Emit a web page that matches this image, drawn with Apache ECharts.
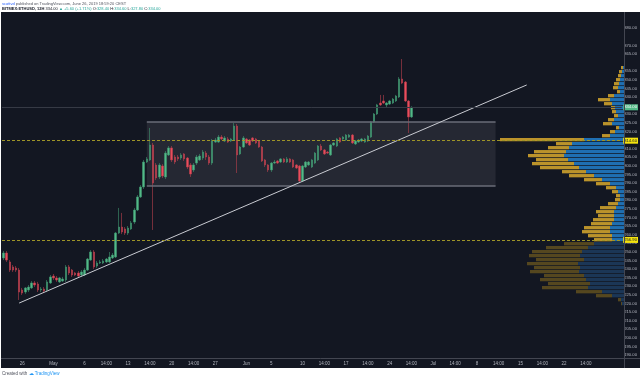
<!DOCTYPE html>
<html>
<head>
<meta charset="utf-8">
<title>ETHUSD 12H</title>
<script src="https://cdn.jsdelivr.net/npm/echarts@6/dist/echarts.min.js"></script>
<style>
  html, body { margin: 0; padding: 0; background: #ffffff; }
  #chart { width: 640px; height: 378px; }
</style>
</head>
<body>
<div id="chart"></div>
<script>
// 12h bars, first slot 2019-04-23 02:00 CEST; [open, close, low, high]
const candles = [
  [246.4,249.3,245.2,250.5],[249.3,245.2,244.1,250.5],[244.1,239.4,238.3,245.2],[241.2,239.4,238.3,242.3],
  [240.6,239.4,238.3,241.7],[239.4,226.6,222.0,240.6],[227.8,226.0,224.9,229.0],[226.6,229.0,225.5,229.5],
  [227.8,229.5,226.6,230.7],[229.0,231.9,228.4,233.0],[231.9,230.7,229.5,233.0],[231.3,227.8,226.6,232.5],
  [227.8,228.4,226.6,229.5],[228.4,227.2,226.0,229.5],[227.8,232.5,226.6,233.6],[231.9,235.4,231.3,236.5],
  [235.9,234.8,233.6,237.1],[234.8,233.6,232.5,235.9],[232.5,234.8,231.9,235.4],[233.0,234.2,232.5,235.4],
  [233.6,241.2,232.5,242.3],[241.2,237.7,236.5,242.3],[239.4,236.5,235.4,240.0],[237.7,236.5,235.9,238.3],
  [237.7,235.9,234.8,238.8],[236.5,238.3,235.4,239.4],[236.5,239.4,235.9,240.6],[239.4,245.8,238.8,246.4],
  [245.2,249.9,244.7,251.0],[249.9,241.2,240.0,251.0],[241.7,243.5,240.6,244.7],[243.5,244.1,242.9,245.2],
  [243.5,244.7,242.9,245.8],[244.1,245.8,243.5,246.4],[244.1,247.0,243.5,249.9],[246.4,248.1,245.8,249.3],
  [247.0,260.9,246.4,261.5],[260.9,264.4,260.3,275.5],[264.4,261.5,260.3,272.6],[263.3,260.9,259.8,264.4],
  [260.9,263.8,259.8,265.0],[263.3,266.8,262.7,267.9],[267.3,274.3,266.2,275.5],[274.3,281.9,273.7,283.0],
  [281.9,287.7,281.3,288.8],[287.7,302.2,286.5,303.4],[302.2,304.0,301.6,305.1],[303.4,312.1,302.8,322.0],
  [312.1,290.0,262.7,313.3],[300.5,292.9,291.7,301.6],[293.5,300.5,292.3,301.6],[299.9,294.1,292.9,301.0],
  [293.5,307.4,292.3,308.6],[306.3,310.4,305.7,311.5],[310.4,303.4,302.2,311.5],[305.1,302.2,301.0,306.3],
  [305.1,304.0,302.8,306.3],[304.5,306.3,303.4,307.4],[306.9,304.0,302.8,307.4],[304.5,299.3,298.1,305.1],
  [300.5,295.2,293.5,301.6],[297.6,300.5,296.4,301.6],[301.6,305.1,300.5,306.3],[303.4,305.7,302.8,306.9],
  [304.5,308.0,303.4,309.2],[307.4,305.1,303.4,308.6],[305.1,301.6,300.5,306.3],[301.6,314.4,300.5,315.6],
  [313.8,315.0,313.3,316.2],[313.8,316.7,313.3,317.9],[316.7,315.6,315.0,317.9],[314.4,316.2,313.8,317.3],
  [315.6,313.8,313.3,316.7],[314.4,315.6,313.8,316.2],[315.0,323.1,314.4,324.9],[323.1,306.3,295.8,324.3],
  [306.9,310.9,306.3,311.5],[310.9,316.2,310.4,317.3],[315.6,313.3,312.7,316.2],[315.0,312.1,311.5,315.6],
  [316.2,314.4,313.8,316.7],[315.6,313.3,312.7,316.2],[314.4,310.9,310.4,315.0],[310.9,302.8,302.2,311.5],
  [303.4,300.5,299.3,304.0],[300.5,297.6,296.4,301.0],[297.6,301.6,296.4,302.2],[301.6,302.2,301.0,303.4],
  [302.8,301.6,301.0,303.4],[302.2,304.0,301.6,304.5],[304.0,302.2,301.6,304.5],[302.2,304.0,301.6,305.1],
  [304.0,302.2,301.6,304.5],[303.4,299.3,298.7,304.0],[300.5,298.7,298.1,301.0],[299.9,291.2,290.6,300.5],
  [291.2,299.9,290.6,300.5],[299.3,302.2,298.7,302.8],[300.5,302.2,299.9,302.8],[299.3,303.4,298.7,304.0],
  [301.6,307.4,301.0,308.0],[303.4,311.5,302.8,312.1],[311.5,309.2,308.6,312.7],[309.2,306.9,306.3,309.8],
  [308.0,307.4,306.9,308.6],[306.3,312.1,305.7,312.7],[312.1,313.3,311.5,313.8],[311.5,315.6,310.9,316.2],
  [316.2,313.8,313.3,316.7],[315.6,316.7,315.0,317.3],[315.0,317.9,314.4,318.5],[316.7,317.9,316.2,318.5],
  [317.9,313.3,312.7,318.5],[312.7,314.4,312.1,315.0],[313.8,315.0,313.3,315.6],[314.4,315.6,313.8,316.2],
  [313.8,315.6,313.3,316.2],[314.4,317.3,313.8,317.9],[316.7,325.5,316.2,326.0],[325.5,330.1,324.9,330.7],
  [330.1,335.4,329.5,336.0],[336.5,335.4,334.8,341.2],[337.7,336.5,335.9,341.2],[335.4,336.5,333.6,337.1],
  [335.9,337.7,335.4,338.3],[336.5,338.8,335.9,339.4],[337.7,340.6,337.1,341.2],[340.0,350.5,339.4,351.6],
  [350.5,348.1,347.5,362.1],[348.7,337.7,337.1,349.3],[337.7,328.4,319.1,338.3],[328.4,334.0,327.8,334.6]
];

// time slots (12h) incl. empty space to the right
const firstBar = Date.UTC(2019, 3, 23, 0);
const slotCount = 199;
const categories = Array.from({ length: slotCount }, (_, i) =>
  new Date(firstBar + i * 43200000).toISOString().slice(0, 16));

const timeTickIndex = [6,16,26,33,40,47,54,61,68,78,86,96,103,110,117,124,131,138,145,152,159,166,173,180,187];
const timeTickText = ['26','May','6','14:00','13','14:00','20','14:00','27','Jun','5','10','14:00','17',
  '14:00','24','14:00','Jul','14:00','8','14:00','15','14:00','22','14:00'];

// price scale
const priceMin = 190, priceMax = 390, priceStep = 5;
const priceLabelsSkipped = [360, 375, 385, 390];

// drawings
const levels = [314.6, 256.9];
const lastPrice = 334.0;
const countdownLevel = 331.9;
const countdownText = '07:00:40';
const boxX = [46, 158];
const boxY = [288.3, 325.5];
const trendX = [5, 168];
const trendY = [220.2, 347.0];

// visible range volume profile, rows from the top (row height 2.3256)
const profileTop = 358.0;
const profileRowHeight = 2.3256;
const profileUp = [1,2,3,4,5,6,4,10,14,12,9,8,6,10,12,5,9,14,40,52,55,58,60,56,50,45,38,30,22,14,
  8,6,4,4,6,8,10,10,10,12,14,14,12,12,30,36,42,44,40,46,44,45,40,38,34,36,22,12,3,2];
const profileTotal = [3,5,6,8,10,11,7,16,26,20,13,12,10,16,21,8,14,22,124,68,76,90,96,88,92,84,62,55,40,28,
  18,12,8,9,16,24,28,26,31,33,40,42,36,30,60,78,92,95,88,97,90,94,80,84,76,82,48,28,6,3];
const profileValueAreaEnd = 43;

const profileData = profileUp.map((up, r) => [
  profileTop - r * profileRowHeight,
  profileTop - (r + 1) * profileRowHeight,
  up,
  profileTotal[r] - up
]);

const font = "'Liberation Sans', Arial, sans-serif";
const axisText = '#b2b5be';

const chart = echarts.init(document.getElementById('chart'));

const sideLabel = (bg, fg, fmt) => ({
  show: true,
  position: 'end',
  distance: 1.5,
  backgroundColor: bg,
  color: fg,
  padding: [1, 1],
  fontSize: 4.2,
  fontFamily: font,
  formatter: fmt
});

chart.setOption({
  animation: false,
  backgroundColor: '#ffffff',
  graphic: [
    { type: 'rect', z: -100, shape: { x: 1, y: 12, width: 639, height: 356 }, style: { fill: '#131722' } },
    { type: 'line', z: 50, shape: { x1: 624.5, y1: 12, x2: 624.5, y2: 368 }, style: { stroke: '#434651', lineWidth: 1 } },
    { type: 'line', z: 50, shape: { x1: 1, y1: 358.5, x2: 640, y2: 358.5 }, style: { stroke: '#434651', lineWidth: 1 } },
    {
      type: 'text', z: 50, left: 2, top: 2,
      style: {
        text: '{a|scottvd} published on TradingView.com, June 26, 2019 18:59:20 CEST',
        font: '4px ' + font, fill: '#50535e',
        rich: { a: { fill: '#2962ff', font: '4px ' + font } }
      }
    },
    {
      type: 'text', z: 50, left: 2, top: 7,
      style: {
        text: '{b|BITMEX:ETHUSD, 12H} 334.00 {g|\u25B2 +5.60 (+1.71%)} O:{g|328.40} H:{g|334.60} L:{g|327.80} C:{g|334.00}',
        font: '4px ' + font, fill: '#131722',
        rich: {
          b: { font: 'bold 4px ' + font, fill: '#131722' },
          g: { font: '4px ' + font, fill: '#26a69a' }
        }
      }
    },
    {
      type: 'text', z: 50, left: 2, top: 371,
      style: {
        text: 'Created with {t|\u2601 TradingView}',
        font: '4.5px ' + font, fill: '#50535e',
        rich: { t: { fill: '#2196f3', font: '4.5px ' + font } }
      }
    }
  ],
  grid: [
    { left: 2, right: 16, top: 11, bottom: 23 },
    { left: 480, right: 16, top: 11, bottom: 23 }
  ],
  xAxis: [
    {
      type: 'category', gridIndex: 0, data: categories, boundaryGap: true,
      axisLine: { show: false }, axisTick: { show: false }, splitLine: { show: false },
      axisLabel: {
        interval: (i) => timeTickIndex.includes(i),
        formatter: (v, i) => {
          const k = timeTickIndex.indexOf(i);
          return k >= 0 ? timeTickText[k] : '';
        },
        color: axisText, fontSize: 4.5, fontFamily: font, margin: 6
      }
    },
    { type: 'value', gridIndex: 1, min: 0, max: 144, inverse: true, show: false }
  ],
  yAxis: [
    {
      type: 'value', gridIndex: 0, position: 'right',
      min: priceMin, max: priceMax, interval: priceStep,
      axisLine: { show: false }, axisTick: { show: false }, splitLine: { show: false },
      axisLabel: {
        color: axisText, fontSize: 4.2, fontFamily: font, margin: 2.5,
        formatter: (v) => priceLabelsSkipped.includes(v) ? '' : v.toFixed(2)
      }
    },
    { type: 'value', gridIndex: 1, min: priceMin, max: priceMax, show: false }
  ],
  series: [
    {
      type: 'custom',
      xAxisIndex: 1, yAxisIndex: 1,
      z: 1,
      silent: true,
      data: profileData,
      renderItem: (params, api) => {
        const hi = api.value(0), lo = api.value(1), up = api.value(2), dn = api.value(3);
        const a = api.coord([0, hi]);
        const b = api.coord([up, lo]);
        const c = api.coord([up + dn, lo]);
        const h = b[1] - a[1] - 0.7;
        const dim = params.dataIndex > profileValueAreaEnd;
        return {
          type: 'group',
          children: [
            { type: 'rect', shape: { x: b[0], y: a[1], width: a[0] - b[0], height: h },
              style: { fill: dim ? '#1b3656' : '#1f6fb2' } },
            { type: 'rect', shape: { x: c[0], y: a[1], width: b[0] - c[0], height: h },
              style: { fill: dim ? '#55471f' : '#bb932b' } }
          ]
        };
      }
    },
    {
      type: 'candlestick',
      xAxisIndex: 0, yAxisIndex: 0,
      z: 3,
      data: candles,
      barWidth: 2,
      itemStyle: {
        color: '#53b987', color0: '#eb4d5c',
        borderColor: '#3f9670', borderColor0: '#b9404d', borderWidth: 0.6
      },
      markArea: {
        silent: true,
        itemStyle: { color: 'rgba(120,123,134,0.18)' },
        data: [[{ coord: [boxX[0], boxY[1]] }, { coord: [boxX[1], boxY[0]] }]]
      },
      markLine: {
        silent: true,
        symbol: ['none', 'none'],
        data: [
          [{ coord: [boxX[0], boxY[1]] }, { coord: [boxX[1], boxY[1]],
            lineStyle: { color: '#6a6d78', width: 1.5, type: 'solid' }, label: { show: false } }],
          [{ coord: [boxX[0], boxY[0]] }, { coord: [boxX[1], boxY[0]],
            lineStyle: { color: '#6a6d78', width: 1.5, type: 'solid' }, label: { show: false } }],
          [{ coord: [trendX[0], trendY[0]] }, { coord: [trendX[1], trendY[1]],
            lineStyle: { color: '#c9cbd2', width: 1, type: 'solid' }, label: { show: false } }],
          { yAxis: levels[0], lineStyle: { color: '#9d9428', width: 1, type: [3, 2] },
            label: sideLabel('#f5e30f', '#131722', (p) => p.value.toFixed(2)) },
          { yAxis: levels[1], lineStyle: { color: '#9d9428', width: 1, type: [3, 2] },
            label: sideLabel('#f5e30f', '#131722', (p) => p.value.toFixed(2)) },
          { yAxis: lastPrice, lineStyle: { color: '#363a45', width: 1, type: 'solid' },
            label: sideLabel('#53b987', '#ffffff', (p) => p.value.toFixed(2)) },
          { yAxis: countdownLevel, lineStyle: { opacity: 0 },
            label: sideLabel('#53b987', '#ffffff', () => countdownText) }
        ]
      }
    }
  ]
});
</script>
</body>
</html>
